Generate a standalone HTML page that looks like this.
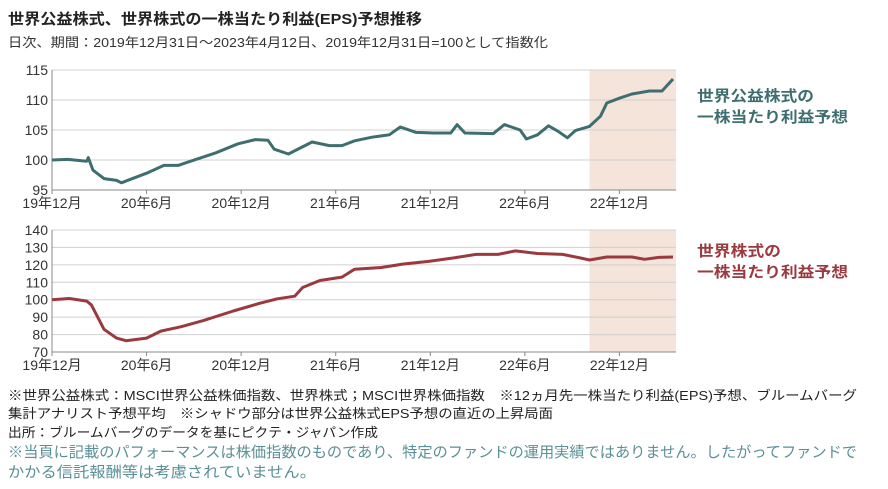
<!DOCTYPE html>
<html><head><meta charset="utf-8"><style>
html,body{margin:0;padding:0;background:#fff;}
svg{display:block;font-family:"Liberation Sans","Noto Sans CJK JP",sans-serif;}
</style></head><body>
<svg id="chart" width="888" height="489" viewBox="0 0 888 489" xmlns="http://www.w3.org/2000/svg">
<text x="8" y="24" font-size="15" font-weight="bold" fill="#222" textLength="414" lengthAdjust="spacingAndGlyphs">世界公益株式、世界株式の一株当たり利益(EPS)予想推移</text>
<text x="8" y="47" font-size="13" fill="#333" textLength="540" lengthAdjust="spacingAndGlyphs">日次、期間：2019年12月31日～2023年4月12日、2019年12月31日=100として指数化</text>
<g id="top"></g>
<g id="bot"></g>
<text x="697" y="101" font-size="15" font-weight="bold" fill="#3f6e70" textLength="117" lengthAdjust="spacingAndGlyphs">世界公益株式の</text>
<text x="697" y="122" font-size="15" font-weight="bold" fill="#3f6e70" textLength="151" lengthAdjust="spacingAndGlyphs">一株当たり利益予想</text>
<text x="697" y="256" font-size="15" font-weight="bold" fill="#9b3a3e" textLength="84" lengthAdjust="spacingAndGlyphs">世界株式の</text>
<text x="697" y="277" font-size="15" font-weight="bold" fill="#9b3a3e" textLength="151" lengthAdjust="spacingAndGlyphs">一株当たり利益予想</text>
<text x="8" y="400" font-size="13" fill="#222" textLength="849" lengthAdjust="spacingAndGlyphs">※世界公益株式：MSCI世界公益株価指数、世界株式；MSCI世界株価指数　※12ヵ月先一株当たり利益(EPS)予想、ブルームバーグ</text>
<text x="8" y="418" font-size="13" fill="#222" textLength="545" lengthAdjust="spacingAndGlyphs">集計アナリスト予想平均　※シャドウ部分は世界公益株式EPS予想の直近の上昇局面</text>
<text x="8" y="437" font-size="13" fill="#222" textLength="370" lengthAdjust="spacingAndGlyphs">出所：ブルームバーグのデータを基にピクテ・ジャパン作成</text>
<text x="8" y="457" font-size="15" fill="#5a9098" textLength="849" lengthAdjust="spacingAndGlyphs">※当頁に記載のパフォーマンスは株価指数のものであり、特定のファンドの運用実績ではありません。したがってファンドで</text>
<text x="8" y="477" font-size="15" fill="#5a9098" textLength="308" lengthAdjust="spacingAndGlyphs">かかる信託報酬等は考慮されていません。</text>
</svg>
<script>
const xTickLabels = ["19年12月","20年6月","20年12月","21年6月","21年12月","22年6月","22年12月"];
const topMonths = [0,1,2.2,2.3,2.6,3.3,4.1,4.4,6,7.1,8,8.8,10.4,11.8,12.9,13.7,14.1,15,16.5,17.6,18.4,19.2,20.3,21.4,22.1,23.1,24.2,25.3,25.7,26.2,28,28.7,29.7,30.1,30.8,31.5,32.1,32.7,33.2,34.1,34.8,35.2,36,36.8,37.9,38.7,39.3,39.4];
const topValues = [100,100.1,99.8,100.4,98.3,96.9,96.6,96.2,97.8,99.1,99.1,99.8,101.2,102.7,103.4,103.3,101.8,101,103,102.4,102.4,103.2,103.8,104.2,105.5,104.6,104.5,104.5,105.9,104.5,104.4,105.9,105,103.5,104.2,105.7,104.8,103.7,104.9,105.6,107.3,109.5,110.3,111,111.5,111.5,113.2,113.5];
const botMonths = [0,1.1,2.2,2.5,3.3,4.1,4.7,6,6.9,8.2,9.6,11.5,13.2,14.3,15.4,15.9,17,18.4,19.2,20.9,22.3,23.9,25.5,26.9,28.3,29.4,30.8,32.4,33.5,34.1,35.2,36.8,37.6,38.5,39.4];
const botValues = [100,100.7,99.2,97,83,78,76.5,78,82,84.5,88,93.5,98,100.5,102,107,111,113,117.5,118.5,120.5,122,124,126,126,128,126.5,126,124,122.8,124.5,124.5,123.2,124.3,124.5];
const topTicks = [95,100,105,110,115];
const botTicks = [70,80,90,100,110,120,130,140];
const shadeStart = 34.1, monthsEnd = 39.4;
const NS="http://www.w3.org/2000/svg";
const X0=52, X1=673;
const xs = m => X0 + (X1-X0)*m/monthsEnd;
function mk(tag, attrs, parent){const e=document.createElementNS(NS,tag);for(const k in attrs)e.setAttribute(k,attrs[k]);parent.appendChild(e);return e;}
function panel(g, ticks, months, values, yTop, yBot, color, prefix){
  const lo=ticks[0], hi=ticks[ticks.length-1];
  const ys = v => yBot - (v-lo)/(hi-lo)*(yBot-yTop);
  const sh=mk('rect',{x:xs(shadeStart),y:yTop,width:X1+3-xs(shadeStart),height:yBot-yTop,fill:'#f4e4da'},g);
  
  
  ticks.forEach(t=>{
    const l=mk('line',{x1:X0,x2:X1+3,y1:ys(t),y2:ys(t),stroke:'#d0d0d0','stroke-width':1},g);
    
    
    const tx=mk('text',{x:X0-4,y:ys(t)+5,'font-size':14,'text-anchor':'end',fill:'#333'},g);
    tx.textContent=t;
    
    
  });
  const ax=mk('line',{x1:X0,x2:X0,y1:yTop,y2:yBot,stroke:'#888'},g);
  
  
  const bx=mk('line',{x1:X0,x2:X1+3,y1:yBot,y2:yBot,stroke:'#888'},g);
  
  
  xTickLabels.forEach((lab,i)=>{
    const x=xs(i*6);
    mk('line',{x1:x,x2:x,y1:yBot,y2:yBot+4,stroke:'#888'},g);
    const tx=mk('text',{x:x,y:yBot+18,'font-size':14,'text-anchor':'middle',fill:'#333'},g);
    tx.textContent=lab;
    
    
  });
  const d=months.map((m,i)=>(i?'L':'M')+xs(m).toFixed(1)+' '+ys(values[i]).toFixed(1)).join(' ');
  const p=mk('path',{d:d,fill:'none',stroke:color,'stroke-width':3,'stroke-linejoin':'round'},g);
  
  
}
panel(document.getElementById('top'), topTicks, topMonths, topValues, 70, 190, '#3f6e70', 'top');
panel(document.getElementById('bot'), botTicks, botMonths, botValues, 230, 352, '#9b3a3e', 'bottom');
</script>
</body></html>
